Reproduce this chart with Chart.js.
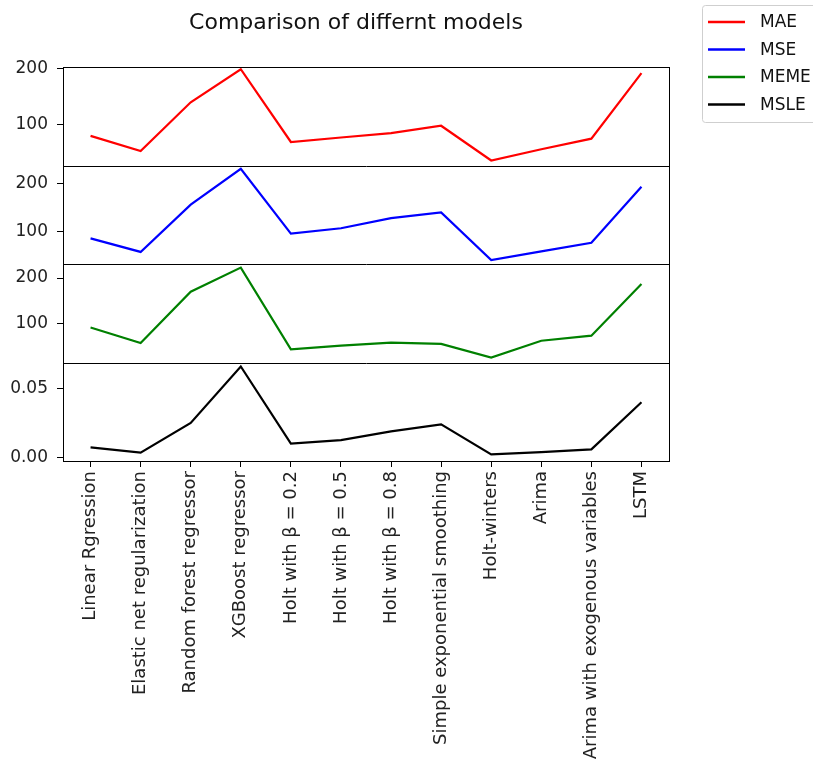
<!DOCTYPE html>
<html>
<head>
<meta charset="utf-8">
<script src="https://cdn.jsdelivr.net/npm/chart.js@4"></script>
<style>
  html, body { margin: 0; padding: 0; background: #fff; }
  #wrap { width: 813px; height: 769px; }
</style>
</head>
<body>
<div id="wrap"><canvas id="modelsChart" width="813" height="769"></canvas></div>
<script>
const models = [
    'Linear Rgression', 'Elastic net regularization', 'Random forest regressor',
    'XGBoost regressor', 'Holt with \u03B2 = 0.2', 'Holt with \u03B2 = 0.5',
    'Holt with \u03B2 = 0.8', 'Simple exponential smoothing', 'Holt-winters',
    'Arima', 'Arima with exogenous variables', 'LSTM'
];
const mae = [79, 52, 139, 198, 68, 76, 84, 97, 35, 55, 74, 191];
const mse = [86, 58, 156, 230, 96, 107, 128, 140, 41, 59, 77, 193];
const meme = [91, 57, 170, 223, 43, 51, 58, 55, 25, 62, 73, 187];
const msle = [0.0074, 0.0036, 0.0250, 0.0657, 0.0102, 0.0126, 0.0190, 0.0240, 0.0024, 0.0040, 0.0060, 0.0400];

const bigTicks = [100, 200];
const smallTicks = [0, 0.05];

const FONT = 'DejaVu Sans';

function points(values) {
    return values.map((v, i) => ({ x: i, y: v }));
}

function yAxis(min, max, tickValues, digits) {
    return {
        type: 'linear',
        position: 'left',
        stack: 'panels',
        stackWeight: 1,
        min: min,
        max: max,
        afterBuildTicks: s => { s.ticks = tickValues.map(v => ({ value: v })); },
        afterFit: s => { s.width = 63; },
        border: { display: false },
        grid: { drawOnChartArea: false, drawTicks: true, tickLength: 6, tickColor: '#000' },
        ticks: {
            color: '#222',
            padding: 9,
            font: { family: FONT, size: 17 },
            callback: v => digits ? Number(v).toFixed(digits) : String(v)
        }
    };
}

// outer box, panel separators, the title and the legend
const framePlugin = {
    id: 'frame',
    afterDraw(chart) {
        const ctx = chart.ctx;
        const area = chart.chartArea;
        const left = Math.round(area.left) + 0.5;
        const right = Math.round(area.right) + 0.5;
        ctx.save();
        ctx.strokeStyle = '#000';
        ctx.lineWidth = 1;
        ctx.strokeRect(left, Math.round(area.top) + 0.5, right - left, Math.round(area.bottom - area.top));
        ['yMSE', 'yMEME', 'yMSLE'].forEach(id => {
            const y = Math.round(chart.scales[id].top) + 0.5;
            ctx.beginPath();
            ctx.moveTo(left, y);
            ctx.lineTo(right, y);
            ctx.stroke();
        });

        ctx.fillStyle = '#111';
        ctx.font = '22px "' + FONT + '"';
        ctx.textAlign = 'center';
        ctx.textBaseline = 'middle';
        ctx.fillText('Comparison of differnt models', 356, 23);

        const lx = 702, ly = 5;
        ctx.fillStyle = '#fff';
        ctx.strokeStyle = '#cfcfcf';
        ctx.beginPath();
        ctx.roundRect(lx + 0.5, ly + 0.5, 130, 117, 3);
        ctx.fill();
        ctx.stroke();
        ctx.font = '17px "' + FONT + '"';
        ctx.textAlign = 'left';
        chart.data.datasets.forEach((ds, i) => {
            const y = ly + 17 + i * 27.5;
            ctx.strokeStyle = ds.borderColor;
            ctx.lineWidth = 2.5;
            ctx.beginPath();
            ctx.moveTo(708, y);
            ctx.lineTo(745, y);
            ctx.stroke();
            ctx.fillStyle = '#111';
            ctx.fillText(ds.label, 760, y + 1);
        });
        ctx.restore();
    }
};

const ctx = document.getElementById('modelsChart').getContext('2d');
new Chart(ctx, {
    type: 'line',
    data: {
        datasets: [
            { label: 'MAE', data: points(mae), yAxisID: 'yMAE', borderColor: 'rgb(255, 0, 0)' },
            { label: 'MSE', data: points(mse), yAxisID: 'yMSE', borderColor: 'rgb(0, 0, 255)' },
            { label: 'MEME', data: points(meme), yAxisID: 'yMEME', borderColor: 'rgb(0, 128, 0)' },
            { label: 'MSLE', data: points(msle), yAxisID: 'yMSLE', borderColor: 'rgb(0, 0, 0)' }
        ]
    },
    options: {
        responsive: false,
        animation: false,
        datasets: {
            line: { borderWidth: 2.2, pointRadius: 0, tension: 0, fill: false }
        },
        layout: { padding: { top: 67, right: 144, left: 0, bottom: 0 } },
        plugins: {
            legend: { display: false },
            title: { display: false },
            tooltip: { enabled: false }
        },
        scales: {
            x: {
                type: 'linear',
                min: -0.55,
                max: 11.55,
                afterBuildTicks: s => { s.ticks = models.map((m, i) => ({ value: i })); },
                afterFit: s => { s.height = 308; },
                border: { display: false },
                grid: { drawOnChartArea: false, drawTicks: true, tickLength: 6, tickColor: '#000' },
                ticks: {
                    autoSkip: false,
                    minRotation: 90,
                    maxRotation: 90,
                    padding: 4,
                    color: '#222',
                    font: { family: FONT, size: 18 },
                    callback: v => models[v]
                }
            },
            yMSLE: yAxis(-0.0024, 0.0686, smallTicks, 2),
            yMEME: yAxis(14, 231, bigTicks, 0),
            yMSE: yAxis(33, 237, bigTicks, 0),
            yMAE: yAxis(26, 202, bigTicks, 0)
        }
    },
    plugins: [framePlugin]
});
</script>
</body>
</html>
